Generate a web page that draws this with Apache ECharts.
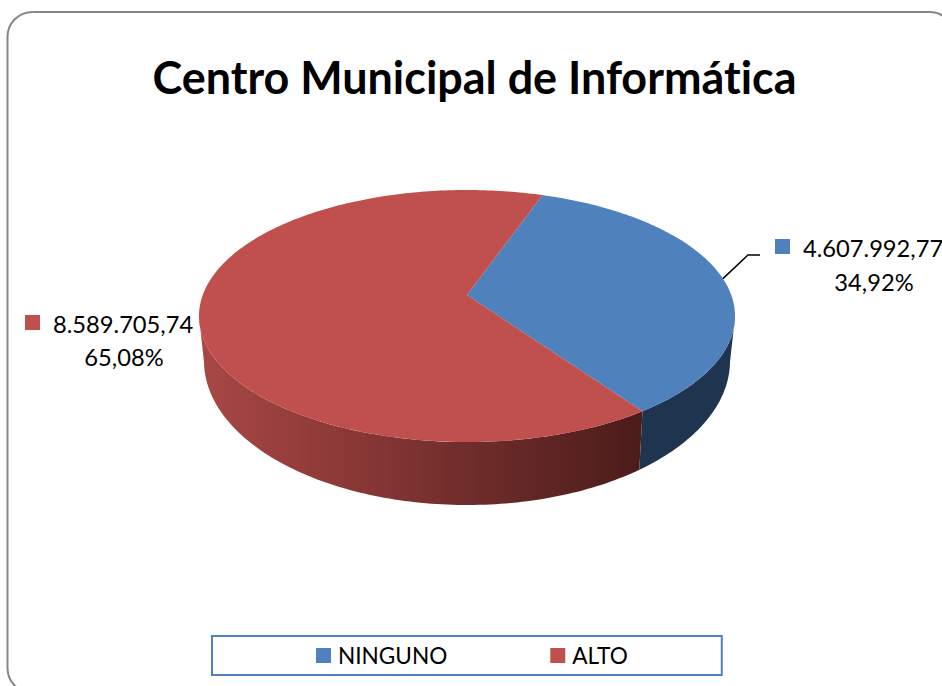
<!DOCTYPE html>
<html>
<head>
<meta charset="utf-8">
<style>html,body{margin:0;padding:0;background:#fff;overflow:hidden}#c{width:942px;height:686px}#c text{font-variant-ligatures:none}</style>
<script src="https://cdn.jsdelivr.net/npm/echarts@6/dist/echarts.min.js"></script>
</head>
<body>
<div id="c"></div>
<script>
var chartTitle = 'Centro Municipal de Informática';
var categories = ['NINGUNO', 'ALTO'];
var values = [4607992.77, 8589705.74];

var colors = ['#4F81BD', '#C0504D'];
var FONT = 'Lato, "Open Sans", sans-serif';
var START_DEG = 19.3;
var TOP = {cx: 467, cy: 316, rx: 268, ry: 126};
var BOTTOM = {cx: 467, cy: 361, rx: 263, ry: 144};
var PERSP = -1 / 6;
var total = values.reduce(function (a, b) { return a + b; }, 0);

function fmtNum(v) {
  var p = v.toFixed(2).split('.');
  return p[0].replace(/\B(?=(\d{3})+(?!\d))/g, '.') + ',' + p[1];
}
function fmtPct(v) { return (v / total * 100).toFixed(2).replace('.', ',') + '%'; }

function rimPoint(deg, e) {
  var t = deg * Math.PI / 180, u = Math.sin(t), v = -Math.cos(t);
  var d = 1 + PERSP * v;
  var x = u * Math.sqrt(1 - PERSP * PERSP) / d, y = (v + PERSP) / d;
  return [e.cx + e.rx * x, e.cy + e.ry * y];
}
function arc(a0, a1, e) {
  var pts = [], n = Math.max(2, Math.ceil(Math.abs(a1 - a0)));
  for (var i = 0; i <= n; i++) pts.push(rimPoint(a0 + (a1 - a0) * i / n, e));
  return pts;
}

var labelStyles = [
  {icon: [775, 239], line1: [803, 248], line2: [874, 282],
   leader: [[748, 255], [760, 255]], wall: [100, 9999],
   wallFill: '#1E344F'},
  {icon: [25, 315], line1: [53, 324], line2: [124, 357], leader: null, wall: [-9999, 260],
   wallFill: new echarts.graphic.LinearGradient(0, 0, 1, 0, [
     {offset: 0, color: '#A84845'},
     {offset: 0.3, color: '#8E3A38'},
     {offset: 0.6, color: '#702D2B'},
     {offset: 1, color: '#4B1C1A'}])}
];

function makeRender(idx) {
  return function (params, api) {
    var val = api.value(0);
    var before = 0;
    for (var i = 0; i < idx; i++) before += values[i];
    var a0 = START_DEG + before / total * 360;
    var a1 = a0 + val / total * 360;
    var st = labelStyles[idx];
    var w0 = Math.max(a0, st.wall[0]), w1 = Math.min(a1, st.wall[1]);
    var wallPts = arc(w0, w1, TOP).concat(arc(w1, w0, BOTTOM));
    var facePts = [[TOP.cx, TOP.cy + TOP.ry * PERSP]].concat(arc(a0, a1, TOP));
    var children = [
      {type: 'polygon', z2: 1, shape: {points: wallPts}, style: {fill: st.wallFill, stroke: null}},
      {type: 'polygon', z2: 5, shape: {points: facePts}, style: {fill: colors[idx], stroke: null}},
      {type: 'rect', z2: 6, shape: {x: st.icon[0], y: st.icon[1], width: 15, height: 15}, style: {fill: colors[idx]}},
      {type: 'text', z2: 6, x: st.line1[0], y: st.line1[1],
       style: {text: fmtNum(val), font: '23.7px ' + FONT, fill: '#000', textAlign: 'left', textVerticalAlign: 'middle'}},
      {type: 'text', z2: 6, x: st.line2[0], y: st.line2[1],
       style: {text: fmtPct(val), font: '23.7px ' + FONT, fill: '#000', textAlign: 'center', textVerticalAlign: 'middle'}}
    ];
    if (st.leader) {
      var rim = rimPoint((a0 + a1) / 2, TOP);
      children.push({type: 'polyline', z2: 6, shape: {points: [rim].concat(st.leader)},
        style: {stroke: '#000', lineWidth: 1.5, fill: null}});
    }
    return {type: 'group', children: children};
  };
}

var chart = echarts.init(document.getElementById('c'), null, {renderer: 'svg'});
chart.setOption({
  animation: false,
  backgroundColor: '#fff',
  title: {
    text: chartTitle, left: 469.5, top: 49, textAlign: 'center',
    textStyle: {fontFamily: FONT, fontWeight: 'bold', fontSize: 44.9, color: '#000'}
  },
  legend: {
    data: categories.map(function (n, i) { return {name: n, itemStyle: {color: colors[i]}}; }),
    left: 212, top: 636,
    padding: [8, 94, 8, 104],
    itemGap: 103, itemWidth: 15, itemHeight: 15,
    icon: 'rect',
    backgroundColor: '#fff', borderColor: '#4F81BD', borderWidth: 2,
    textStyle: {fontFamily: FONT, fontSize: 22.6, color: '#000', padding: [0, 0, 0, 2]}
  },
  graphic: [{
    type: 'rect', silent: true, z: 0,
    shape: {x: 7.5, y: 12, width: 947, height: 681, r: 25},
    style: {fill: null, stroke: '#868686', lineWidth: 2}
  }],
  series: categories.map(function (n, i) {
    return {
      type: 'custom', name: n, coordinateSystem: 'none',
      itemStyle: {color: colors[i]},
      data: [[values[i]]],
      renderItem: makeRender(i)
    };
  })
});
</script>
</body>
</html>
